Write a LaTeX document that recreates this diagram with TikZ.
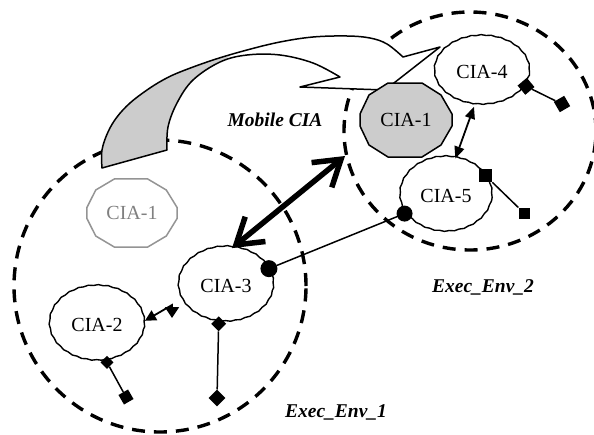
\documentclass[tikz,border=0pt]{standalone}
\usepackage{fontspec}
\setmainfont{Liberation Serif}
\usetikzlibrary{arrows.meta,shapes.geometric,decorations.pathmorphing}
\definecolor{ghostline}{gray}{0.58}
\definecolor{ghosttext}{gray}{0.5}
\definecolor{bandgrey}{gray}{0.8}
\begin{document}
\begin{tikzpicture}[x=1pt,y=-1pt,
  envline/.style={line width=3.4pt, dash pattern=on 13pt off 9pt},
  ciatxt/.style={font=\fontsize{20}{22}\selectfont},
  cia/.style={ciatxt, ellipse, draw, line width=1.4pt, fill=white, inner sep=0pt,
    minimum width=95pt, minimum height=75pt,
    decorate, decoration={snake, segment length=10pt, amplitude=0.4pt}},
  octc/.style={ciatxt, ellipse, inner sep=0pt, minimum width=92pt, minimum height=74pt},
  lbl/.style={font=\fontsize{19.5}{22}\selectfont\bfseries\itshape},
  wire/.style={line width=1.5pt},
  bigarrow/.style={line width=5.5pt, {Straight Barb[length=25pt,width=32pt]}-{Straight Barb[length=25pt,width=32pt]}},
  tri/.style={line width=1.8pt, {Triangle[length=12pt,width=10pt]}-{Triangle[length=12pt,width=10pt]}},
  pcirc/.style={circle, fill, inner sep=0pt, minimum size=17pt},
  pdiam/.style={diamond, fill, inner sep=0pt, minimum size=15pt},
  psq/.style={rectangle, fill, inner sep=0pt, minimum size=11pt},
]
\useasboundingbox (0,0) rectangle (594,434);

% execution environments
\draw[envline] (160,286) ellipse [x radius=146pt, y radius=146pt];
\draw[envline] (470,131) ellipse [x radius=126pt, y radius=119pt];

% mobile CIA band
\fill[white] plot[smooth, tension=0.6] coordinates {(102,168) (102,150) (108,132) (117,117) (130,103) (147,90) (163,80) (180,72) (213,60) (247,50) (280,42) (313,37) (347,36) (370,38) (387,44) (403,57)} -- (440,47) -- (385,90) -- (300,87) -- (340,77) -- plot[smooth, tension=0.6] coordinates {(340,77) (313,63) (280,55) (247,55) (220,62) (193,80) (177,103) (168,127) (167,150)} -- cycle;
\fill[bandgrey] plot[smooth, tension=0.6] coordinates {(102,168) (102,150) (108,132) (117,117) (130,103) (147,90) (163,80) (180,72) (213,60) (230,56)} -- plot[smooth, tension=0.6] coordinates {(222,61) (193,80) (177,103) (168,127) (167,150)} -- cycle;
\draw[line width=1.5pt, line join=round] plot[smooth, tension=0.6] coordinates {(102,168) (102,150) (108,132) (117,117) (130,103) (147,90) (163,80) (180,72) (213,60) (247,50) (280,42) (313,37) (347,36) (370,38) (387,44) (403,57)} -- (440,47) -- (385,90) -- (300,87) -- (340,77) -- plot[smooth, tension=0.6] coordinates {(340,77) (313,63) (280,55) (247,55) (220,62) (193,80) (177,103) (168,127) (167,150)} -- cycle;

% ghost CIA-1
\begin{scope}[shift={(132,213)}, xscale=0.98, yscale=0.92]
\draw[ghostline, line width=1.5pt] (-18,-37) -- (16,-37) -- (35,-25) -- (46,-6) -- (46,6) -- (35,25) -- (16,37) -- (-18,37) -- (-37,25) -- (-46,6) -- (-46,-6) -- (-37,-25) -- cycle;
\end{scope}
\node[octc, text=ghosttext, minimum width=90pt, minimum height=68pt] (g1) at (132,213) {CIA-1};

% mobile CIA-1
\begin{scope}[shift={(406,120)}]
\filldraw[fill=bandgrey, line width=1.5pt] (-18,-37) -- (16,-37) -- (35,-25) -- (46,-6) -- (46,6) -- (35,25) -- (16,37) -- (-18,37) -- (-37,25) -- (-46,6) -- (-46,-6) -- (-37,-25) -- cycle;
\end{scope}
\node[octc] (c1) at (406,120) {CIA-1};

% CIAs
\node[cia, minimum height=69pt] (c4) at (482,72) {CIA-4};
\node[cia, minimum width=92pt] (c5) at (446,196) {CIA-5};
\node[cia] (c3) at (226,286) {CIA-3};
\node[cia] (c2) at (97,325) {CIA-2};

% labels
\node[lbl] (mob) at (275,120) {Mobile CIA};
\node[lbl] (e2) at (483,287) {Exec\_Env\_2};
\node[lbl] (e1) at (336,412) {Exec\_Env\_1};

% migration arrow
\coordinate (mt) at (345,156);
\draw[bigarrow] (c3.81) -- (mt);

% CIA-4 <-> CIA-5
\draw[tri] (c4.-103) -- (c5.76);

% CIA-2 <-> CIA-3
\coordinate (k1) at (172,305);
\coordinate (k2) at (172,318);
\draw[line width=1.8pt, {Triangle[length=11pt,width=11pt]}-{Triangle[length=11pt,width=14pt]}] (c2.5) -- (k1) -- (k2);

% ports
\node[pcirc] (p3) at (c3.22) {};
\node[pcirc, minimum size=16pt] (p5) at (c5.203) {};
\draw[wire] (p3) -- (p5);

\node[pdiam] (d3) at (c3.-101) {};
\node[pdiam, minimum size=17pt] (d3b) at (217,398) {};
\draw[wire] (d3) -- (d3b);

\node[pdiam, minimum size=13pt] (d2) at (c2.-75) {};
\node[psq, rotate=30] (s2) at (126,397) {};
\draw[wire] (d2) -- (s2);

\node[psq, rotate=40, minimum size=12pt] (s4) at (c4.-18) {};
\node[psq, rotate=30, minimum size=12pt] (s4b) at (562,104) {};
\draw[wire] (s4) -- (s4b);

\node[psq, minimum size=13pt] (s5) at (c5.27) {};
\node[psq] (s5b) at (524,213) {};
\draw[wire] (s5) -- (s5b);
\end{tikzpicture}
\end{document}
